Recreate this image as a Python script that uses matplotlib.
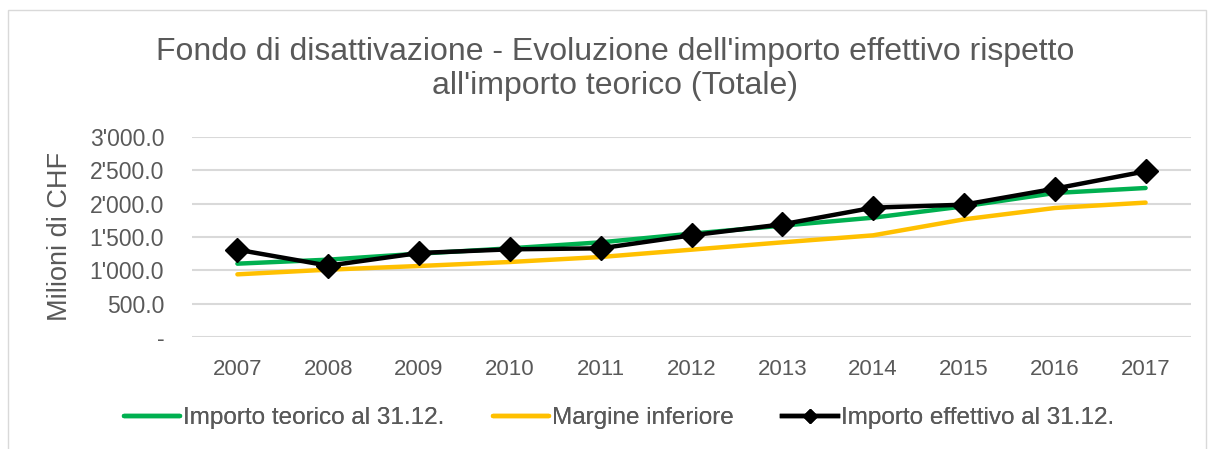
import matplotlib.pyplot as plt
from matplotlib.ticker import FuncFormatter
from matplotlib.patches import Rectangle

plt.rcParams['font.family'] = ['Liberation Sans', 'DejaVu Sans']

years = ['2007', '2008', '2009', '2010', '2011', '2012', '2013', '2014', '2015', '2016', '2017']
teorico = [1100, 1160, 1250, 1330, 1420, 1550, 1670, 1790, 1960, 2160, 2235]
margine = [940, 1010, 1065, 1125, 1200, 1310, 1420, 1525, 1765, 1935, 2016]
effettivo = [1310, 1070, 1260, 1315, 1330, 1525, 1690, 1940, 1985, 2225, 2485]

grey = '#595959'

def fmt(v, pos):
    if v == 0:
        return '-'
    return '{:,.1f}'.format(v).replace(',', "'")

W, H = 1218, 449
fig = plt.figure(figsize=(W / 100, H / 100), dpi=100)
ax = fig.add_axes([192 / W, 1 - 337 / H, 999 / W, 200 / H])

x = range(len(years))
l1, = ax.plot(x, teorico, color='#00b050', lw=3.2, solid_capstyle='round', label='Importo teorico al 31.12.', zorder=2)
l2, = ax.plot(x, margine, color='#ffc000', lw=3.2, solid_capstyle='round', label='Margine inferiore', zorder=2)
l3, = ax.plot(x, effettivo, color='black', lw=3.2, marker='D', markersize=12, label='Importo effettivo al 31.12.', zorder=3)

ax.set_xlim(-0.5, len(years) - 0.5)
ax.set_ylim(0, 3000)
ax.set_yticks(range(0, 3001, 500))
ax.yaxis.set_major_formatter(FuncFormatter(fmt))
ax.set_xticks(list(x))
ax.set_xticklabels(years)
ax.grid(axis='y', color='#d9d9d9', lw=1.5)
ax.set_axisbelow(True)
for s in ax.spines.values():
    s.set_visible(False)
ax.tick_params(length=0, colors=grey)
ax.tick_params(axis='y', labelsize=16.5, pad=20)
ax.tick_params(axis='x', labelsize=16, pad=16)

fig.text(60 / W, 1 - 236 / H, 'Milioni di CHF', rotation=90, ha='center', va='center', fontsize=19.5, color=grey)

fig.text(0.505, 1 - 69 / H, "Fondo di disattivazione - Evoluzione dell'importo effettivo rispetto\nall'importo teorico (Totale)",
         ha='center', va='center', fontsize=23, color=grey, linespacing=1.15)

# one legend per entry so each sits where the reference puts it
for h, xl in [(l1, 124), (l2, 493), (l3, 782)]:
    leg = fig.legend(handles=[h], loc='center left', bbox_to_anchor=(xl / W, 1 - 418 / H), frameon=False,
                     fontsize=17.5, labelcolor=grey, handlelength=2.3, handletextpad=0.12,
                     borderpad=0, borderaxespad=0, markerscale=0.6)
    fig.add_artist(leg)

fig.patches.append(Rectangle((8 / W, -0.02), 1198 / W, 1 - 10 / H + 0.02, transform=fig.transFigure,
                             fill=False, edgecolor='#d9d9d9', lw=1))

fig.savefig('out.png', dpi=100)
